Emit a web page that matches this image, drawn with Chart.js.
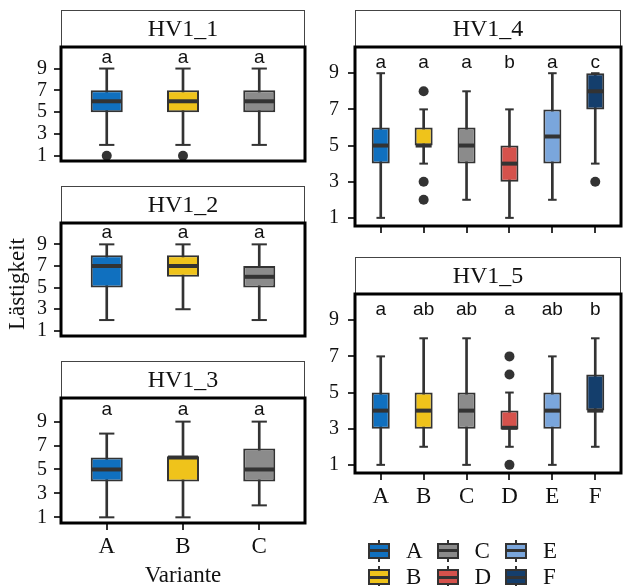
<!DOCTYPE html>
<html>
<head>
<meta charset="utf-8">
<script src="https://cdn.jsdelivr.net/npm/chart.js@4"></script>
<style>
  body { margin: 0; width: 626px; height: 586px; background: #fff; position: relative; overflow: hidden; }
  canvas { position: absolute; }
  .lbl { position: absolute; font-family: "Liberation Serif", serif; color: #111; white-space: nowrap; }
</style>
</head>
<body>
<canvas id="p1" width="312" height="180" style="left:0;top:0"></canvas>
<canvas id="p2" width="312" height="175" style="left:0;top:180px"></canvas>
<canvas id="p3" width="312" height="231" style="left:0;top:355px"></canvas>
<canvas id="p4" width="326" height="250" style="left:300px;top:0"></canvas>
<canvas id="p5" width="326" height="280" style="left:300px;top:250px"></canvas>
<div class="lbl" style="left:-83px;top:271px;width:200px;height:26px;line-height:26px;text-align:center;font-size:23px;transform:rotate(-90deg)">Lästigkeit</div>
<div class="lbl" style="left:83px;top:562px;width:200px;line-height:26px;text-align:center;font-size:23px">Variante</div>
<div id="legend"></div>
<script>
// Tick values shared by every panel
const yTicks = [1, 3, 5, 7, 9];
const cats3 = ['A', 'B', 'C'];
const cats6 = ['A', 'B', 'C', 'D', 'E', 'F'];

// HV1_1
const hv1_1Min = [2, 2, 2];
const hv1_1Q1 = [5, 5, 5];
const hv1_1Med = [6, 6, 6];
const hv1_1Q3 = [7, 7, 7];
const hv1_1Max = [9, 9, 9];
const hv1_1Out = [[1], [1], []];
const hv1_1Letters = ['a', 'a', 'a'];

// HV1_2
const hv1_2Min = [2, 3, 2];
const hv1_2Q1 = [5, 6, 5];
const hv1_2Med = [7, 7, 6];
const hv1_2Q3 = [8, 8, 7];
const hv1_2Max = [9, 9, 9];
const hv1_2Out = [[], [], []];
const hv1_2Letters = ['a', 'a', 'a'];

// HV1_3
const hv1_3Min = [1, 1, 2];
const hv1_3Q1 = [4, 4, 4];
const hv1_3Med = [5, 6, 5];
const hv1_3Q3 = [6, 6.1, 6.75];
const hv1_3Max = [8, 9, 9];
const hv1_3Out = [[], [], []];
const hv1_3Letters = ['a', 'a', 'a'];

// HV1_4
const hv1_4Min = [1, 4, 2, 1, 2, 4];
const hv1_4Q1 = [4, 5, 4, 3, 4, 7];
const hv1_4Med = [5, 5, 5, 4, 5.5, 8];
const hv1_4Q3 = [6, 6, 6, 5, 7, 9];
const hv1_4Max = [9, 7, 8, 7, 9, 9];
const hv1_4Out = [[], [8, 3, 2], [], [], [], [3]];
const hv1_4Letters = ['a', 'a', 'a', 'b', 'a', 'c'];

// HV1_5
const hv1_5Min = [1, 2, 1, 2, 1, 2];
const hv1_5Q1 = [3, 3, 3, 2.95, 3, 4];
const hv1_5Med = [4, 4, 4, 3.05, 4, 4];
const hv1_5Q3 = [5, 5, 5, 4, 5, 6];
const hv1_5Max = [7, 8, 8, 5, 7, 8];
const hv1_5Out = [[], [], [], [7, 6, 1], [], []];
const hv1_5Letters = ['a', 'ab', 'ab', 'a', 'ab', 'b'];

const variantColors = { A: '#1070bf', B: '#efc31b', C: '#8b8b8b', D: '#d5524c', E: '#7aa6dc', F: '#143e6c' };
const ink = '#333';

// strip, panel border and significance letters
const panelDeco = {
    id: 'panelDeco',
    afterDatasetsDraw(chart, args, opts) {
        const { ctx, chartArea: a, scales: { x, y } } = chart;
        ctx.save();
        ctx.font = '19px "Liberation Sans"';
        ctx.fillStyle = '#111';
        ctx.textAlign = 'center';
        ctx.textBaseline = 'alphabetic';
        opts.letters.forEach((t, i) => ctx.fillText(t, x.getPixelForValue(i + 1), y.getPixelForValue(opts.letterY)));

        const stripH = 37;
        ctx.fillStyle = '#fff';
        ctx.fillRect(a.left, a.top - stripH, a.right - a.left, stripH);
        ctx.strokeStyle = '#444';
        ctx.lineWidth = 1;
        ctx.strokeRect(a.left + 0.5, a.top - stripH + 0.5, a.right - a.left - 1, stripH);
        ctx.fillStyle = '#111';
        ctx.font = '24px "Liberation Serif"';
        ctx.textBaseline = 'middle';
        ctx.fillText(opts.title, (a.left + a.right) / 2, a.top - stripH / 2 + 1);

        ctx.strokeStyle = '#000';
        ctx.lineWidth = 3;
        ctx.strokeRect(a.left, a.top, a.right - a.left, a.bottom - a.top);
        ctx.restore();
    }
};

function unitPx(chart) {
    const s = chart.scales.x;
    return s.width / (s.max - s.min);
}

function makePanel(id, title, cats, lo, q1, med, q3, hi, out, letters, lay) {
    const colors = cats.map(c => variantColors[c]);
    const pts = [];
    out.forEach((vals, i) => vals.forEach(v => pts.push({ x: i + 1, y: v })));

    return new Chart(document.getElementById(id), {
        type: 'bar',
        data: {
            datasets: [
                {
                    label: 'whisker', order: 5, grouped: false, barThickness: 2,
                    data: cats.map((c, i) => ({ x: i + 1, y: [lo[i], hi[i]] })),
                    backgroundColor: ink
                },
                {
                    type: 'line', label: 'caps', order: 4, showLine: false,
                    data: cats.flatMap((c, i) => [{ x: i + 1, y: lo[i] }, { x: i + 1, y: hi[i] }]),
                    pointStyle: 'line', pointBorderColor: ink, pointBorderWidth: 2,
                    pointRadius: ctx => 0.1 * unitPx(ctx.chart)
                },
                {
                    label: 'box', order: 3, grouped: false, barPercentage: 0.42, categoryPercentage: 1,
                    data: cats.map((c, i) => ({ x: i + 1, y: [q1[i], q3[i]] })),
                    backgroundColor: colors, borderColor: ink, borderWidth: 2, borderSkipped: false
                },
                {
                    type: 'line', label: 'median', order: 2, showLine: false,
                    data: cats.map((c, i) => ({ x: i + 1, y: med[i] })),
                    pointStyle: 'line', pointBorderColor: ink, pointBorderWidth: 4,
                    pointRadius: ctx => 0.21 * unitPx(ctx.chart) - 1
                },
                {
                    type: 'line', label: 'outliers', order: 1, showLine: false,
                    data: pts,
                    pointStyle: 'circle', pointRadius: 5, pointBackgroundColor: ink, pointBorderWidth: 0
                }
            ]
        },
        options: {
            responsive: false,
            animation: false,
            devicePixelRatio: 1,
            events: [],
            layout: { padding: lay.padding },
            plugins: {
                legend: { display: false },
                tooltip: { enabled: false },
                panelDeco: { title: title, letters: letters, letterY: lay.letterY }
            },
            scales: {
                x: {
                    type: 'linear',
                    offset: false,
                    min: 0.4,
                    max: cats.length + 0.6,
                    afterBuildTicks: s => { s.ticks = cats.map((c, i) => ({ value: i + 1 })); },
                    afterFit: s => { s.height = lay.xHeight; },
                    grid: { display: lay.xTicks, offset: false, drawOnChartArea: false, tickLength: 7, color: ink, lineWidth: 2 },
                    border: { display: false },
                    ticks: {
                        display: lay.xLabels, autoSkip: false, maxRotation: 0, padding: 3,
                        color: '#111', font: { family: 'Liberation Serif', size: 23 },
                        callback: v => cats[v - 1]
                    }
                },
                y: {
                    type: 'linear',
                    min: lay.yMin,
                    max: lay.yMax,
                    afterBuildTicks: s => { s.ticks = yTicks.map(v => ({ value: v })); },
                    afterFit: s => { s.width = lay.yWidth; },
                    grid: { drawOnChartArea: false, tickLength: 7, color: ink, lineWidth: 2 },
                    border: { display: false },
                    ticks: {
                        autoSkip: false, padding: lay.yPad,
                        color: '#111', font: { family: 'Liberation Serif', size: 20 }
                    }
                }
            }
        },
        plugins: [panelDeco]
    });
}

const leftLay = { yMin: 0.525, yMax: 10.975, yWidth: 61, yPad: 7, letterY: 9.55 };
const rightLay = { yMin: 0.55, yMax: 10.45, yWidth: 55, yPad: 9, letterY: 9.3 };

makePanel('p1', 'HV1_1', cats3, hv1_1Min, hv1_1Q1, hv1_1Med, hv1_1Q3, hv1_1Max, hv1_1Out, hv1_1Letters,
    { ...leftLay, padding: { top: 47, right: 7, bottom: 0, left: 0 }, xHeight: 9, xTicks: false, xLabels: false });
makePanel('p2', 'HV1_2', cats3, hv1_2Min, hv1_2Q1, hv1_2Med, hv1_2Q3, hv1_2Max, hv1_2Out, hv1_2Letters,
    { ...leftLay, padding: { top: 43, right: 7, bottom: 0, left: 0 }, xHeight: 9, xTicks: false, xLabels: false });
makePanel('p3', 'HV1_3', cats3, hv1_3Min, hv1_3Q1, hv1_3Med, hv1_3Q3, hv1_3Max, hv1_3Out, hv1_3Letters,
    { ...leftLay, padding: { top: 43, right: 7, bottom: 0, left: 0 }, xHeight: 63, xTicks: true, xLabels: true });
makePanel('p4', 'HV1_4', cats6, hv1_4Min, hv1_4Q1, hv1_4Med, hv1_4Q3, hv1_4Max, hv1_4Out, hv1_4Letters,
    { ...rightLay, padding: { top: 47, right: 1, bottom: 0, left: 0 }, xHeight: 24, xTicks: true, xLabels: false });
makePanel('p5', 'HV1_5', cats6, hv1_5Min, hv1_5Q1, hv1_5Med, hv1_5Q3, hv1_5Max, hv1_5Out, hv1_5Letters,
    { ...rightLay, padding: { top: 44, right: 1, bottom: 0, left: 0 }, xHeight: 57, xTicks: true, xLabels: true });

// Legend: boxplot glyph keys, two rows
const legend = document.getElementById('legend');
cats6.forEach((c, i) => {
    const left = 368 + Math.floor(i / 2) * 68.5;
    const top = 542.7 + (i % 2) * 26.3;
    legend.insertAdjacentHTML('beforeend',
        `<div style="position:absolute;left:${left + 10}px;top:${top - 3}px;width:2px;height:22px;background:${ink}"></div>` +
        `<div style="position:absolute;left:${left}px;top:${top}px;width:22px;height:16px;box-sizing:border-box;border:2px solid ${ink};background:${variantColors[c]}">` +
        `<div style="position:absolute;left:0;right:0;top:4.5px;height:3px;background:${ink}"></div></div>` +
        `<div class="lbl" style="left:${left + 38}px;top:${top - 5}px;line-height:26px;font-size:23px">${c}</div>`);
});
</script>
</body>
</html>
